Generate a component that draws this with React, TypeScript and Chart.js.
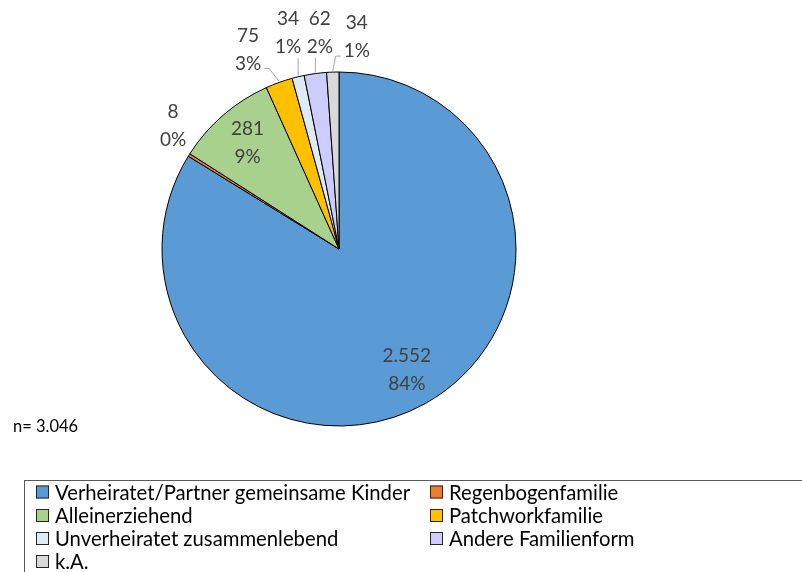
import React, { useEffect, useRef } from "react";
import { Chart, registerables } from "chart.js";

Chart.register(...registerables);

const categories = [
  "Verheiratet/Partner gemeinsame Kinder",
  "Regenbogenfamilie",
  "Alleinerziehend",
  "Patchworkfamilie",
  "Unverheiratet zusammenlebend",
  "Andere Familienform",
  "k.A.",
];
const counts = [2552, 8, 281, 75, 34, 62, 34];
// shares as published alongside the counts (percent)
const sharePercents = [84, 0, 9, 3, 1, 2, 1];
const sliceColors = ["#5B9BD5", "#ED7D31", "#A9D18E", "#FFC000", "#DEEBF7", "#CCCCFF", "#D9D9D9"];
const sampleNote = "n= 3.046";

// label placement: "in" = inside at fraction of radius, "out" = offset from the arc's outer midpoint
const labelPlacement: { mode: "in" | "out"; dx?: number; dy?: number; rf?: number }[] = [
  { mode: "in", rf: 0.785 },
  { mode: "out", dx: -16, dy: -29 },
  { mode: "in", rf: 0.79 },
  { mode: "out", dx: -31, dy: -33 },
  { mode: "out", dx: -10, dy: -44 },
  { mode: "out", dx: 4.5, dy: -41 },
  { mode: "out", dx: 24, dy: -35 },
];

const FONT = "Lato, 'Open Sans', sans-serif";

const fmtInt = (v: number) => v.toLocaleString("de-DE");

const labelsPlugin = {
  id: "pieLabels",
  afterDatasetsDraw(chart: any) {
    const ctx = chart.ctx as CanvasRenderingContext2D;
    const meta = chart.getDatasetMeta(0);
    const data = chart.data.datasets[0].data as number[];
    ctx.save();
    ctx.font = `19px ${FONT}`;
    ctx.textAlign = "center";
    ctx.textBaseline = "middle";
    meta.data.forEach((arc: any, i: number) => {
      const { x, y, startAngle, endAngle, outerRadius } = arc.getProps(
        ["x", "y", "startAngle", "endAngle", "outerRadius"],
        true
      );
      const mid = (startAngle + endAngle) / 2;
      const place = labelPlacement[i];
      const l1 = fmtInt(data[i]);
      const l2 = sharePercents[i] + "%";
      let cx: number, cy: number;
      const px = x + Math.cos(mid) * outerRadius;
      const py = y + Math.sin(mid) * outerRadius;
      if (place.mode === "in") {
        cx = x + Math.cos(mid) * outerRadius * (place.rf || 0.8);
        cy = y + Math.sin(mid) * outerRadius * (place.rf || 0.8);
      } else {
        cx = px + (place.dx || 0);
        cy = py + (place.dy || 0);
        const w = Math.max(ctx.measureText(l1).width, ctx.measureText(l2).width);
        const left = cx - w / 2 - 3;
        const right = cx + w / 2 + 3;
        const bottom = cy + 25.5;
        ctx.strokeStyle = "#A6A6A6";
        ctx.lineWidth = 1;
        const yA = cy + 19;
        if (px >= left && px <= right) {
          if (py - bottom > 4) {
            ctx.beginPath();
            ctx.moveTo(px, py - 1);
            ctx.lineTo(px, bottom);
            ctx.stroke();
          }
        } else if (py - yA > 6 && Math.min(Math.abs(px - left), Math.abs(px - right)) < 40 && py - bottom > 4) {
          const edge = px > right ? right : left;
          const dir = px > right ? 1 : -1;
          ctx.beginPath();
          ctx.moveTo(edge, yA);
          ctx.lineTo(edge + dir * 5, yA);
          ctx.lineTo(px, py - 1);
          ctx.stroke();
        }
      }
      ctx.fillStyle = "#404040";
      ctx.fillText(l1, cx, cy - 14);
      ctx.fillText(l2, cx, cy + 14);
    });

    // sample size note
    ctx.fillStyle = "#000000";
    ctx.font = `16.5px ${FONT}`;
    ctx.textAlign = "left";
    ctx.fillText(sampleNote, 13, 427);

    // legend box
    const bg = chart.data.datasets[0].backgroundColor as string[];
    ctx.strokeStyle = "#595959";
    ctx.lineWidth = 1;
    ctx.strokeRect(24.5, 480.5, 800, 120);
    ctx.font = `20.3px ${FONT}`;
    const colX = [36, 430];
    const rowY = [492, 515.5, 538.5, 561.5];
    chart.data.labels.forEach((lab: string, i: number) => {
      const col = i % 2;
      const row = Math.floor(i / 2);
      const lx = colX[col];
      const ly = rowY[row];
      ctx.fillStyle = bg[i];
      ctx.fillRect(lx, ly - 6.5, 13, 13);
      ctx.strokeStyle = "#262626";
      ctx.strokeRect(lx + 0.5, ly - 6, 12, 12);
      ctx.fillStyle = "#000000";
      ctx.fillText(lab, lx + 19, ly + 1);
    });
    ctx.restore();
  },
};

export default function App() {
  const ref = useRef<HTMLCanvasElement | null>(null);
  useEffect(() => {
    if (!ref.current) return;
    const chart = new Chart(ref.current, {
      type: "pie",
      data: {
        labels: categories,
        datasets: [
          {
            data: counts,
            backgroundColor: sliceColors,
            borderColor: "#000000",
            borderWidth: 1,
          },
        ],
      },
      options: {
        responsive: false,
        animation: false,
        devicePixelRatio: 1,
        radius: 177,
        layout: { padding: { left: 162, right: 286, top: 72, bottom: 146 } },
        plugins: { legend: { display: false }, tooltip: { enabled: false } },
      } as any,
      plugins: [labelsPlugin],
    });
    return () => chart.destroy();
  }, []);
  return (
    <div style={{ position: "absolute", left: 0, top: 0, width: 802, height: 572, background: "#fff" }}>
      <canvas ref={ref} width={802} height={572} style={{ width: 802, height: 572 }} />
    </div>
  );
}
